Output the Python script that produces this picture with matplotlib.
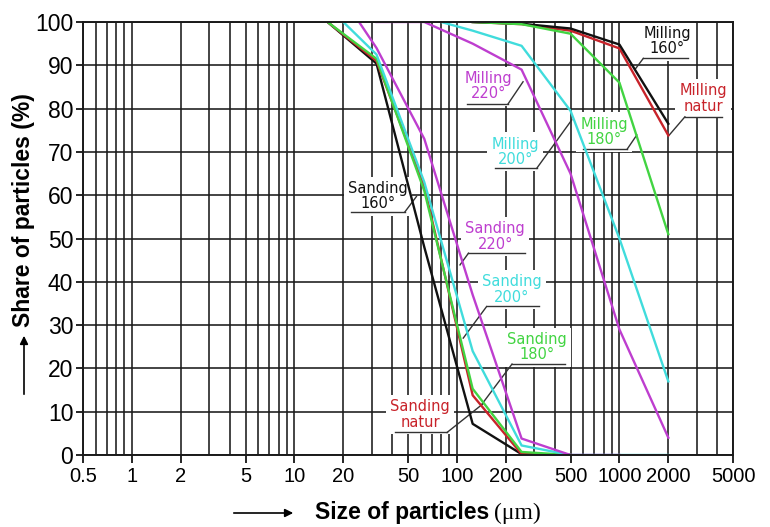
import matplotlib
matplotlib.use("Agg")
import matplotlib.pyplot as plt
from matplotlib import font_manager

# sieve sizes (um) and share of particles (%) - sanding dust
sand_x = [16, 32, 63, 125, 250, 500]
sand_natur = [100, 91, 62, 13.8, 0.2, 0]
sand_160 = [100, 90.4, 48, 7.2, 0.2, 0]
sand_180 = [100, 91.5, 61, 15.3, 0.7, 0]
sand_200_x = [20, 32, 63, 125, 250, 500, 1000, 2000]
sand_200 = [100, 92.5, 63, 24, 2.2, 0, 0, 0]
sand_220_x = [25, 32, 63, 125, 250, 500, 1000]
sand_220 = [100, 94, 73, 37, 3.8, 0, 0]

# milling chips
mill_x = [125, 250, 500, 1000, 2000]
mill_natur = [100, 99.5, 98, 93.9, 73.8]
mill_160 = [100, 99.6, 98.5, 94.8, 76.5]
mill_180 = [100, 99.5, 97.3, 86, 51]
mill_200_x = [80, 125, 250, 500, 1000, 2000]
mill_200 = [100, 98, 94.5, 79.5, 50, 17]
mill_220_x = [32, 63, 125, 250, 500, 1000, 2000]
mill_220 = [100, 100, 95, 89, 65, 29, 4]

xticks = [0.5, 1, 2, 5, 10, 20, 50, 100, 200, 500, 1000, 2000, 5000]
xtick_labels = ["0.5", "1", "2", "5", "10", "20", "50", "100", "200", "500", "1000", "2000", "5000"]
yticks = [0, 10, 20, 30, 40, 50, 60, 70, 80, 90, 100]

RED = "#c8232a"
BLK = "#111111"
GRN = "#42d442"
CYN = "#40dcdc"
MAG = "#be3ecf"

# narrow digits like the original if that face is around
installed = {f.name for f in font_manager.fontManager.ttflist}
if "Liberation Sans Narrow" in installed:
    tick_fam, xt_size, yt_size = "Liberation Sans Narrow", 18, 18
else:
    tick_fam, xt_size, yt_size = "Liberation Sans", 14.5, 16.5

fig = plt.figure(figsize=(7.7, 5.27), dpi=100)
ax = fig.add_axes([83 / 770, 1 - 455 / 527, 650 / 770, 433 / 527])
ax.set_xscale("log")

lw = 1.7
ax.plot(mill_x, mill_natur, color=RED, lw=lw)
ax.plot(mill_x, mill_160, color=BLK, lw=lw)
ax.plot(mill_x, mill_180, color=GRN, lw=lw)
ax.plot(mill_200_x, mill_200, color=CYN, lw=lw)
ax.plot(mill_220_x, mill_220, color=MAG, lw=lw)
ax.plot(sand_x, sand_160, color=BLK, lw=lw)
ax.plot(sand_x, sand_natur, color=RED, lw=lw)
ax.plot(sand_x, sand_180, color=GRN, lw=lw)
ax.plot(sand_200_x, sand_200, color=CYN, lw=lw)
ax.plot(sand_220_x, sand_220, color=MAG, lw=lw)

ax.set_xlim(0.5, 5000)
ax.set_ylim(0, 100)

minor = []
for d in [0.1, 1, 10, 100, 1000]:
    for m in range(2, 10):
        v = round(m * d, 3)
        if 0.5 < v < 5000 and v not in xticks:
            minor.append(v)
ax.set_xticks(xticks)
ax.set_xticklabels(xtick_labels)
ax.set_xticks(minor, minor=True)
ax.set_xticklabels([], minor=True)
ax.set_yticks(yticks)

ax.set_axisbelow(True)
ax.grid(True, which="both", axis="x", color="#1a1a1a", lw=1.15)
ax.grid(True, which="major", axis="y", color="#1a1a1a", lw=1.15)
for s in ax.spines.values():
    s.set_linewidth(1.4)
    s.set_color("#1a1a1a")

for t in ax.get_xticklabels():
    t.set_fontfamily(tick_fam)
    t.set_fontsize(xt_size)
for t in ax.get_yticklabels():
    t.set_fontfamily(tick_fam)
    t.set_fontsize(yt_size)
ax.tick_params(axis="x", which="major", length=6, width=1.2, pad=3)
ax.tick_params(axis="y", which="major", length=5, width=1.2, pad=2)
ax.tick_params(which="minor", length=0)

# curve labels: text, colour, text centre, underline x0/x1/y, leader start x, leader end (axes fraction)
labels = [
    ("Milling\n160°", BLK, 0.899, 0.956, 0.862, 0.931, 0.916, 0.862, 0.850, 0.892),
    ("Milling\nnatur", RED, 0.954, 0.823, 0.926, 0.983, 0.781, 0.926, 0.902, 0.739),
    ("Milling\n180°", GRN, 0.802, 0.746, 0.769, 0.837, 0.706, 0.837, 0.852, 0.739),
    ("Milling\n200°", CYN, 0.665, 0.700, 0.634, 0.698, 0.662, 0.698, 0.752, 0.774),
    ("Milling\n220°", MAG, 0.624, 0.852, 0.590, 0.654, 0.811, 0.654, 0.677, 0.862),
    ("Sanding\n220°", MAG, 0.634, 0.504, 0.593, 0.680, 0.466, 0.593, 0.580, 0.439),
    ("Sanding\n200°", CYN, 0.660, 0.382, 0.621, 0.701, 0.343, 0.621, 0.585, 0.270),
    ("Sanding\n180°", GRN, 0.698, 0.249, 0.660, 0.742, 0.210, 0.660, 0.613, 0.116),
    ("Sanding\nnatur", RED, 0.519, 0.094, 0.480, 0.560, 0.052, 0.560, 0.616, 0.119),
    ("Sanding\n160°", BLK, 0.454, 0.598, 0.413, 0.495, 0.561, 0.495, 0.513, 0.597),
]
for txt, col, cx, cy, ux0, ux1, uy, sx, lx, ly in labels:
    ax.text(cx, cy, txt, color=col, ha="center", va="center", fontsize=10.5,
            linespacing=1.05, transform=ax.transAxes, zorder=1.5,
            bbox=dict(fc="white", ec="none", pad=3))
    ax.plot([ux0, ux1], [uy, uy], color="#333333", lw=1.0, transform=ax.transAxes,
            zorder=1.6, scalex=False, scaley=False)
    ax.plot([sx, lx], [uy, ly], color="#333333", lw=1.0, transform=ax.transAxes,
            zorder=1.6, scalex=False, scaley=False)

# axis titles with arrows
fig.text(24 / 770, 1 - 210 / 527, "Share of particles (%)", rotation=90, ha="center",
         va="center", fontsize=16.5, fontweight="bold", family=["Liberation Sans", "DejaVu Sans"])
ax.annotate("", xy=(24, 527 - 333), xytext=(24, 527 - 397), xycoords="figure pixels",
            textcoords="figure pixels",
            arrowprops=dict(arrowstyle="-|>", color="black", lw=1.2, mutation_scale=12))

fig.text(489 / 770, 1 - 513 / 527, "Size of particles", ha="right", va="center",
         fontsize=16.5, fontweight="bold", family=["Liberation Sans", "DejaVu Sans"])
fig.text(494 / 770, 1 - 513 / 527, "(μm)", ha="left", va="center",
         fontsize=17, family=["Liberation Serif", "DejaVu Serif"])
ax.annotate("", xy=(296, 14), xytext=(231, 14), xycoords="figure pixels",
            textcoords="figure pixels",
            arrowprops=dict(arrowstyle="-|>", color="black", lw=1.2, mutation_scale=12))

fig.savefig("out.png", dpi=100)
